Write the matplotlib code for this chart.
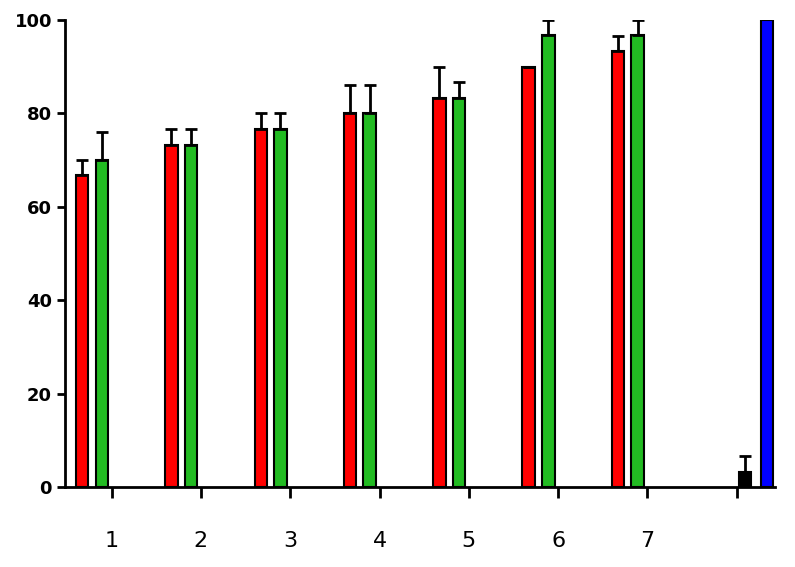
import matplotlib.pyplot as plt
import numpy as np

groups = [1, 2, 3, 4, 5, 6, 7]
red_vals = [66.7, 73.3, 76.7, 80.0, 83.3, 90.0, 93.3]
red_err = [3.3, 3.3, 3.3, 6.0, 6.7, 0.0, 3.3]
green_vals = [70.0, 73.3, 76.7, 80.0, 83.3, 96.7, 96.7]
green_err = [6.0, 3.3, 3.3, 6.0, 3.3, 3.3, 3.3]
ctrl_black = 3.3
ctrl_black_err = 3.3
ctrl_blue = 100.0
tick_labels = ['1', '2', '3', '4', '5', '6', '7', '']

fig = plt.figure(figsize=(7.95, 5.67), dpi=100)
ax = fig.add_axes([0.082, 0.141, 0.893, 0.824])

x = np.array(groups, dtype=float)
w = 0.14
ekw = dict(elinewidth=2, capthick=2)
ax.bar(x - 0.33, red_vals, w, color='#ff0000', edgecolor='black', linewidth=1.5,
       yerr=[np.zeros(7), red_err], capsize=4, error_kw=ekw, zorder=2)
ax.bar(x - 0.11, green_vals, w, color='#22bb22', edgecolor='black', linewidth=1.5,
       yerr=[np.zeros(7), green_err], capsize=4, error_kw=ekw, zorder=2)
ax.bar(8.09, ctrl_black, w, color='black', edgecolor='black', linewidth=1.5,
       yerr=[[0], [ctrl_black_err]], capsize=4, error_kw=ekw, zorder=2)
ax.bar(8.34, ctrl_blue, w, color='#0000ff', edgecolor='black', linewidth=1.5, zorder=2)

ax.set_xlim(0.48, 8.43)
ax.set_ylim(0, 100)
ax.set_xticks(list(range(1, 9)))
ax.set_xticklabels(tick_labels, fontsize=16)
ax.set_yticks([0, 20, 40, 60, 80, 100])
ax.tick_params(axis='x', length=8, width=2, pad=24)
ax.tick_params(axis='y', length=6, width=2, labelsize=13)
for lab in ax.get_yticklabels():
    lab.set_fontweight('bold')
for s in ['top', 'right']:
    ax.spines[s].set_visible(False)
for s in ['left', 'bottom']:
    ax.spines[s].set_linewidth(2)

fig.savefig('out.png', dpi=100)
